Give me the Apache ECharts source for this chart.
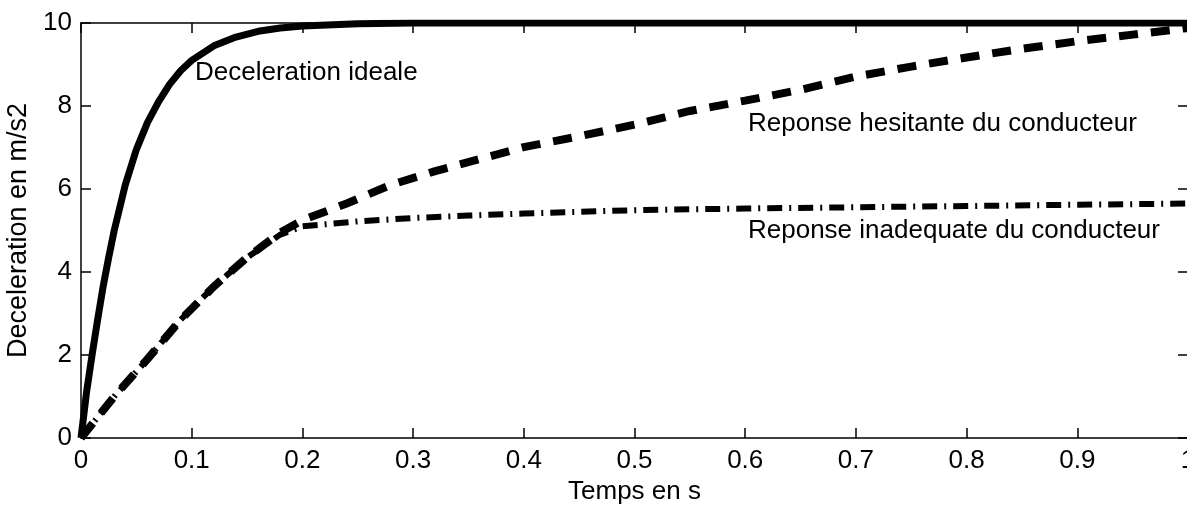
<!DOCTYPE html>
<html>
<head>
<meta charset="utf-8">
<script src="https://cdn.jsdelivr.net/npm/echarts@6/dist/echarts.min.js"></script>
<style>
html,body{margin:0;padding:0;background:#fff;}
#chart{width:1187px;height:506px;}
</style>
</head>
<body>
<div id="chart"></div>
<script>
// ---- data ----
var xTickLabels = ['0','0.1','0.2','0.3','0.4','0.5','0.6','0.7','0.8','0.9','1'];
var yTickLabels = ['0','2','4','6','8','10'];

var tIdeal = [0, 0.005, 0.01, 0.015, 0.02, 0.025, 0.03, 0.04, 0.05, 0.06, 0.07, 0.08, 0.09, 0.1, 0.12, 0.14, 0.16, 0.18, 0.2, 0.25, 0.3, 0.4, 0.6, 0.8, 1.0];
var vIdeal = [0, 1.1, 2.0, 2.85, 3.65, 4.35, 5.0, 6.1, 6.95, 7.6, 8.1, 8.52, 8.85, 9.1, 9.45, 9.66, 9.8, 9.88, 9.93, 9.98, 10, 10, 10, 10, 10];

var tHesitant = [0, 0.03, 0.06, 0.09, 0.12, 0.15, 0.18, 0.2, 0.24, 0.28, 0.32, 0.36, 0.4, 0.45, 0.5, 0.55, 0.6, 0.65, 0.7, 0.75, 0.8, 0.85, 0.9, 0.95, 1.0];
var vHesitant = [0, 1.0, 1.9, 2.85, 3.65, 4.35, 4.95, 5.25, 5.65, 6.1, 6.43, 6.72, 7.01, 7.27, 7.55, 7.88, 8.13, 8.39, 8.71, 8.95, 9.17, 9.38, 9.56, 9.72, 9.88];

var tInadequate = [0, 0.03, 0.06, 0.09, 0.12, 0.15, 0.18, 0.2, 0.25, 0.3, 0.35, 0.4, 0.45, 0.5, 0.6, 0.7, 0.8, 0.9, 1.0];
var vInadequate = [0, 1.0, 1.9, 2.85, 3.65, 4.35, 4.9, 5.1, 5.22, 5.3, 5.36, 5.41, 5.45, 5.49, 5.53, 5.56, 5.59, 5.62, 5.65];

var labelIdeal = 'Deceleration ideale';
var labelHesitant = 'Reponse hesitante du conducteur';
var labelInadequate = 'Reponse inadequate du conducteur';
var xName = 'Temps en s';
var yName = 'Deceleration en m/s2';

function pairs(t, v) { return t.map(function (x, i) { return [x, v[i]]; }); }

var FONT = '"Liberation Sans", Arial, Helvetica, sans-serif';
var FS = 26;

var chart = echarts.init(document.getElementById('chart'), null, {renderer: 'canvas'});
var axisLine = {show: true, onZero: false, lineStyle: {color: '#000', width: 1.5}};
var tick = {show: true, inside: true, length: 10, lineStyle: {color: '#000', width: 1.5}};

chart.setOption({
  animation: false,
  backgroundColor: '#fff',
  grid: {left: 81, top: 23, width: 1107, height: 415, containLabel: false, outerBoundsMode: 'none'},
  xAxis: [{
    type: 'value', min: 0, max: 1, interval: 0.1, position: 'bottom',
    axisLine: axisLine, axisTick: tick, splitLine: {show: false},
    axisLabel: {color: '#000', fontFamily: FONT, fontSize: FS, margin: 10,
      formatter: function (v) { return xTickLabels[Math.round(v * 10)]; }},
    name: xName, nameLocation: 'middle', nameGap: 36,
    nameTextStyle: {color: '#000', fontFamily: FONT, fontSize: FS}
  }, {
    type: 'value', min: 0, max: 1, interval: 0.1, position: 'top',
    axisLine: axisLine, axisTick: tick, splitLine: {show: false},
    axisLabel: {show: false}
  }],
  yAxis: [{
    type: 'value', min: 0, max: 10, interval: 2, position: 'left',
    axisLine: axisLine, axisTick: tick, splitLine: {show: false},
    axisLabel: {color: '#000', fontFamily: FONT, fontSize: FS, margin: 9,
      formatter: function (v) { return yTickLabels[Math.round(v / 2)]; }},
    name: yName, nameLocation: 'middle', nameGap: 45,
    nameTextStyle: {color: '#000', fontFamily: FONT, fontSize: 27}
  }, {
    type: 'value', min: 0, max: 10, interval: 2, position: 'right',
    axisLine: axisLine, axisTick: tick, splitLine: {show: false},
    axisLabel: {show: false}
  }],
  series: [{
    type: 'line', name: labelInadequate, data: pairs(tInadequate, vInadequate),
    showSymbol: false, smooth: false, clip: true,
    lineStyle: {color: '#000', width: 6, type: [15, 7, 2, 7], cap: 'butt'}
  }, {
    type: 'line', name: labelHesitant, data: pairs(tHesitant, vHesitant),
    showSymbol: false, smooth: false, clip: true,
    lineStyle: {color: '#000', width: 8, type: [19, 13], cap: 'butt'}
  }, {
    type: 'line', name: labelIdeal, data: pairs(tIdeal, vIdeal),
    showSymbol: false, smooth: false, clip: true,
    lineStyle: {color: '#000', width: 7, type: 'solid', join: 'round'}
  }],
  graphic: [
    {type: 'text', left: 195, top: 60, style: {text: labelIdeal, fill: '#000', font: FS + 'px ' + FONT}},
    {type: 'text', left: 748, top: 111, style: {text: labelHesitant, fill: '#000', font: FS + 'px ' + FONT}},
    {type: 'text', left: 748, top: 218, style: {text: labelInadequate, fill: '#000', font: FS + 'px ' + FONT}}
  ]
});
</script>
</body>
</html>
